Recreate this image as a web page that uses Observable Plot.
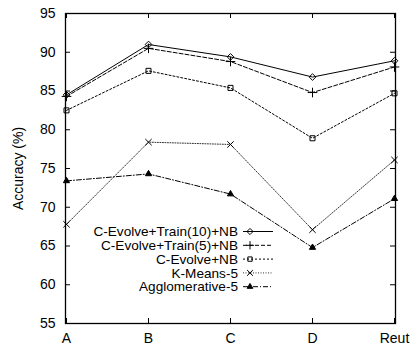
<!DOCTYPE html>
<html><head><meta charset="utf-8">
<script src="https://cdn.jsdelivr.net/npm/d3@7"></script>
<script src="https://cdn.jsdelivr.net/npm/@observablehq/plot@0.6"></script>
<style>body{margin:0;background:#fff;font-family:"Liberation Sans",Arial,sans-serif}#c{position:relative;width:412px;height:350px}</style>
</head><body><div id="c"></div>
<script>
const categories = ["A","B","C","D","Reut"];
const seriesNames = ["C-Evolve+Train(10)+NB","C-Evolve+Train(5)+NB","C-Evolve+NB","K-Means-5","Agglomerative-5"];
const train10 = [84.5, 91.0, 89.4, 86.8, 88.9];
const train5  = [84.3, 90.5, 88.8, 84.8, 88.1];
const nb      = [82.5, 87.6, 85.4, 78.9, 84.7];
const kmeans  = [67.8, 78.4, 78.1, 67.1, 76.1];
const agglo   = [73.4, 74.3, 71.7, 64.8, 71.1];
const yTicks = [55,60,65,70,75,80,85,90,95];

const W = 412, H = 350, mL = 65, mR = 17, mT = 13, mB = 27;
const pw = W - mL - mR, ph = H - mT - mB, tk = 5;

const values = [train10, train5, nb, kmeans, agglo];
const styles = [
  {dash:null, stroke:"#000", symbol:"diamond2", r:3},
  {dash:"4,2", stroke:"#000", symbol:"plus", r:3.2},
  {dash:"2,2", stroke:"#000", symbol:"square2", r:3.2},
  {dash:"1,1.5", stroke:"#333", symbol:"times", r:3},
  {dash:"5,2,1,2", stroke:"#000", symbol:"triangle", r:2.3}
];
const table = [];
seriesNames.forEach((s,i)=>categories.forEach((c,j)=>table.push({series:s, idx:i, cat:c, v:values[i][j]})));

const marks = [];
seriesNames.forEach((s,i)=>{
  const d = table.filter(r=>r.idx===i);
  const st = styles[i];
  marks.push(Plot.line(d,{x:"cat",y:"v",stroke:st.stroke,strokeWidth:1,strokeDasharray:st.dash}));
  marks.push(Plot.dot(d,{x:"cat",y:"v",symbol:st.symbol,r:st.r,stroke:"#000",fill: st.symbol==="triangle"?"#000":"none",strokeWidth:1}));
});

const plot = Plot.plot({
  width:W, height:H,
  marginLeft:mL, marginRight:mR, marginTop:mT, marginBottom:mB,
  style:{fontFamily:"Liberation Sans, Arial, sans-serif", fontSize:"14px", color:"#000", background:"#fff"},
  x:{type:"point", domain:categories, padding:0},
  y:{domain:[55,95]},
  marks:[
    Plot.axisX({anchor:"bottom", tickSize:0, tickPadding:10, fontSize:14, label:null}),
    Plot.axisY({anchor:"left", ticks:yTicks, tickSize:0, tickPadding:10, fontSize:14, label:"Accuracy (%)", labelAnchor:"center", labelOffset:52, labelArrow:"none"}),
    Plot.ruleY(yTicks, {y:d=>d, insetRight:pw-tk, stroke:"#000"}),
    Plot.ruleY(yTicks, {y:d=>d, insetLeft:pw-tk, stroke:"#000"}),
    Plot.ruleX(categories, {x:d=>d, insetTop:ph-tk, stroke:"#000"}),
    Plot.ruleX(categories, {x:d=>d, insetBottom:ph-tk, stroke:"#000"}),
    ...marks,
    Plot.frame({stroke:"#000", strokeWidth:1.3})
  ]
});
document.getElementById("c").appendChild(plot);

// legend
const svg = d3.select(plot);
const lg = svg.append("g").attr("font-size",13.6).attr("font-family","Liberation Sans, Arial, sans-serif");
seriesNames.forEach((s,i)=>{
  const y = 231.5 + i*13.8;
  const st = styles[i];
  lg.append("text").attr("x",238).attr("y",y).attr("dy","0.35em").attr("text-anchor","end").text(s);
  lg.append("line").attr("x1",243).attr("x2",273).attr("y1",y).attr("y2",y).attr("stroke",st.stroke).attr("stroke-width",1).attr("stroke-dasharray",st.dash);
  const sym = d3.symbol().type({diamond2:d3.symbolDiamond2,plus:d3.symbolPlus,square2:d3.symbolSquare2,times:d3.symbolTimes,triangle:d3.symbolTriangle}[st.symbol]).size(st.symbol==="triangle"?14:24);
  lg.append("path").attr("d",sym()).attr("transform",`translate(250,${y})`).attr("stroke","#000").attr("fill",st.symbol==="triangle"?"#000":"none");
});
</script></body></html>
